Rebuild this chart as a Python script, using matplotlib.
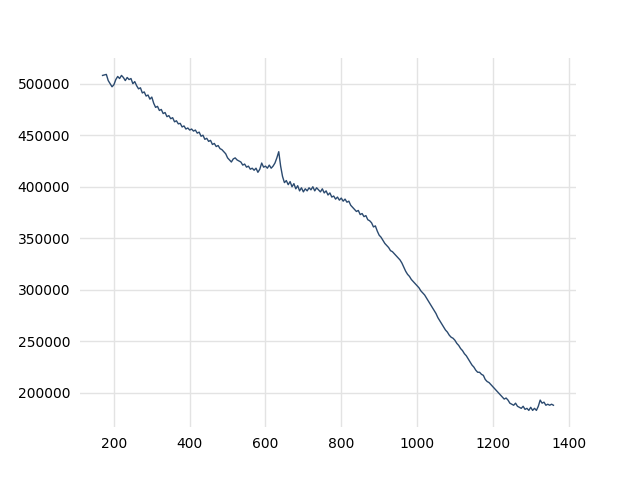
import matplotlib
matplotlib.use("Agg")
import matplotlib.pyplot as plt
import numpy as np

# x positions: every 5 units from 170 to 1360
x_start = 170
x_step = 5

# y values in thousands, one row per 50 x-units
y_thousands = [
    508, 508.5, 509, 503, 500, 497, 499, 504, 507, 505,   # 170-215
    508, 506, 503, 506, 504, 505, 500, 502, 498, 495,     # 220-265
    496, 491, 492, 488, 489, 485, 487, 481, 477, 478,     # 270-315
    474, 475, 471, 472, 468, 469, 466, 467, 463, 464,     # 320-365
    461, 461.5, 458, 459, 456, 457, 455, 456, 454, 455,   # 370-415
    452, 453, 449, 450, 446, 447, 444, 445, 441, 442,     # 420-465
    439, 440, 437, 436, 434, 432, 428, 426, 424, 427,     # 470-515
    428, 426, 425, 424, 421, 422, 419, 420, 417, 418,     # 520-565
    416, 418, 414, 417, 423, 419, 420, 418, 421, 418,     # 570-615
    420, 423, 428, 434, 420, 410, 404, 406, 402, 405,     # 620-665
    400, 403, 398, 401, 396, 399, 395, 398, 396, 399,     # 670-715
    397, 400, 396, 399, 397, 395, 398, 394, 396, 392,     # 720-765
    394, 390, 391, 388, 390, 387, 389, 386, 388, 385,     # 770-815
    386, 382, 380, 378, 376, 377, 373, 374, 371, 372,     # 820-865
    368, 367, 365, 361, 362, 357, 353, 351, 348, 345,     # 870-915
    343, 341, 338, 337, 335, 333, 331, 329, 326, 322,     # 920-965
    318, 315, 313, 310, 308, 306, 304, 302, 299, 297,     # 970-1015
    295, 292, 289, 286, 283, 280, 277, 273, 270, 267,     # 1020-1065
    264, 261, 259, 256, 254, 253, 251, 248, 246, 243,     # 1070-1115
    241, 238, 236, 233, 230, 227, 225, 222, 220, 220,     # 1120-1165
    218, 217, 213, 211, 210, 208, 206, 204, 202, 200,     # 1170-1215
    198, 196, 194, 195, 193, 190, 189, 188, 190, 187,     # 1220-1265
    186, 185, 187, 184, 185, 183, 186, 183, 185, 183,     # 1270-1315
    187, 193, 190, 191, 188, 189, 188, 189, 188,          # 1320-1360
]

y = np.array(y_thousands) * 1000
x = x_start + x_step * np.arange(len(y))

fig, ax = plt.subplots(figsize=(6.4, 4.8), dpi=100)
ax.plot(x, y, color="#2b4a6f", linewidth=1.0)

for side in ["top", "right", "bottom", "left"]:
    ax.spines[side].set_visible(False)
ax.grid(True, color="#e3e3e3", linewidth=1)
ax.set_axisbelow(True)
# tick marks hidden but keep their room so labels sit like the reference
ax.tick_params(color=(0, 0, 0, 0))

fig.savefig("out.png")
